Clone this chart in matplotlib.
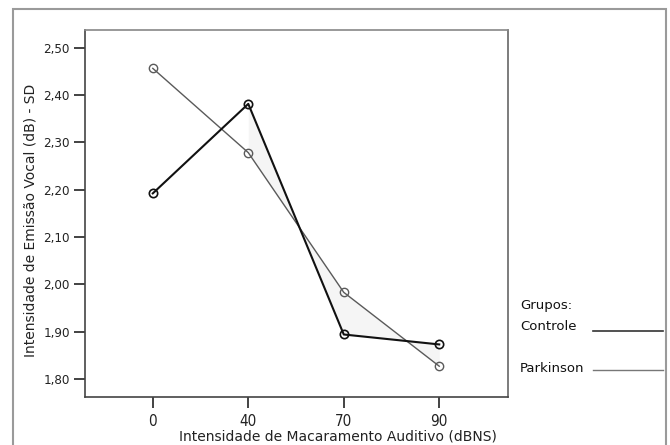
import matplotlib.pyplot as plt
from matplotlib.patches import Rectangle
import numpy as np

# intensidade de mascaramento (dBNS) e medias por grupo
niveis = ["0", "40", "70", "90"]
controle = [2.192, 2.381, 1.894, 1.873]
parkinson = [2.456, 2.278, 1.983, 1.827]
yticks = [1.80, 1.90, 2.00, 2.10, 2.20, 2.30, 2.40, 2.50]

fig = plt.figure(figsize=(6.7, 4.45), dpi=100)
fig.patch.set_facecolor("white")
ax = fig.add_axes([85 / 670, 1 - 397 / 445, 423 / 670, 367 / 445])

x = np.arange(len(niveis))
# sombreado leve entre as curvas de 40 a 90
ax.fill_between(x[1:], controle[1:], parkinson[1:], color="#f5f5f5",
                zorder=1, lw=0)
ax.plot(x, controle, color="#111111", lw=1.5, marker="o", ms=6,
        mfc="none", mec="#111111", mew=1.2, zorder=3)
ax.plot(x, parkinson, color="#5a5a5a", lw=1.0, marker="o", ms=6,
        mfc="none", mec="#5a5a5a", mew=1.0, zorder=2)

ax.set_xlim(-0.71, 3.72)
ax.set_ylim(1.762, 2.537)
ax.set_xticks(x)
ax.set_xticklabels(niveis, family="DejaVu Sans", stretch="condensed",
                   fontsize=11)
ax.set_yticks(yticks)
ax.set_yticklabels([f"{v:.2f}".replace(".", ",") for v in yticks],
                   family="DejaVu Sans", stretch="condensed", fontsize=9.5)
ax.tick_params(axis="y", length=8, width=1.2, pad=3, colors="#222222")
ax.tick_params(axis="x", length=8, width=1.2, pad=4, colors="#222222")
for s in ax.spines.values():
    s.set_color("#444444")
    s.set_linewidth(1.2)
ax.spines["top"].set_color("#888888")
ax.spines["right"].set_color("#666666")

ax.set_ylabel("Intensidade de Emissão Vocal (dB) - SD", fontsize=10,
              color="#222222")
ax.yaxis.set_label_coords(-0.112, 0.48)
fig.text(338 / 670, 1 - 437 / 445, "Intensidade de Macaramento Auditivo (dBNS)",
         ha="center", va="center", fontsize=10, color="#222222")

# legenda desenhada a mao, fora do eixo
fig.text(520 / 670, 1 - 305 / 445, "Grupos:", fontsize=9.5,
         color="#111111", va="center")
fig.text(520 / 670, 1 - 327 / 445, "Controle", fontsize=9.5,
         color="#111111", va="center")
fig.text(520 / 670, 1 - 368 / 445, "Parkinson", fontsize=9.5,
         color="#111111", va="center")
fig.add_artist(plt.Line2D([593 / 670, 663 / 670], [1 - 331 / 445] * 2,
                          color="#333333", lw=1.2, transform=fig.transFigure))
fig.add_artist(plt.Line2D([593 / 670, 663 / 670], [1 - 370 / 445] * 2,
                          color="#777777", lw=1.0, transform=fig.transFigure))

# moldura externa
fig.add_artist(Rectangle((13 / 670, -0.05), 653 / 670, 1.05 - 9 / 445,
                         transform=fig.transFigure, fill=False,
                         edgecolor="#9a9a9a", lw=1.5))

fig.savefig("out.png", dpi=100, facecolor="white")
